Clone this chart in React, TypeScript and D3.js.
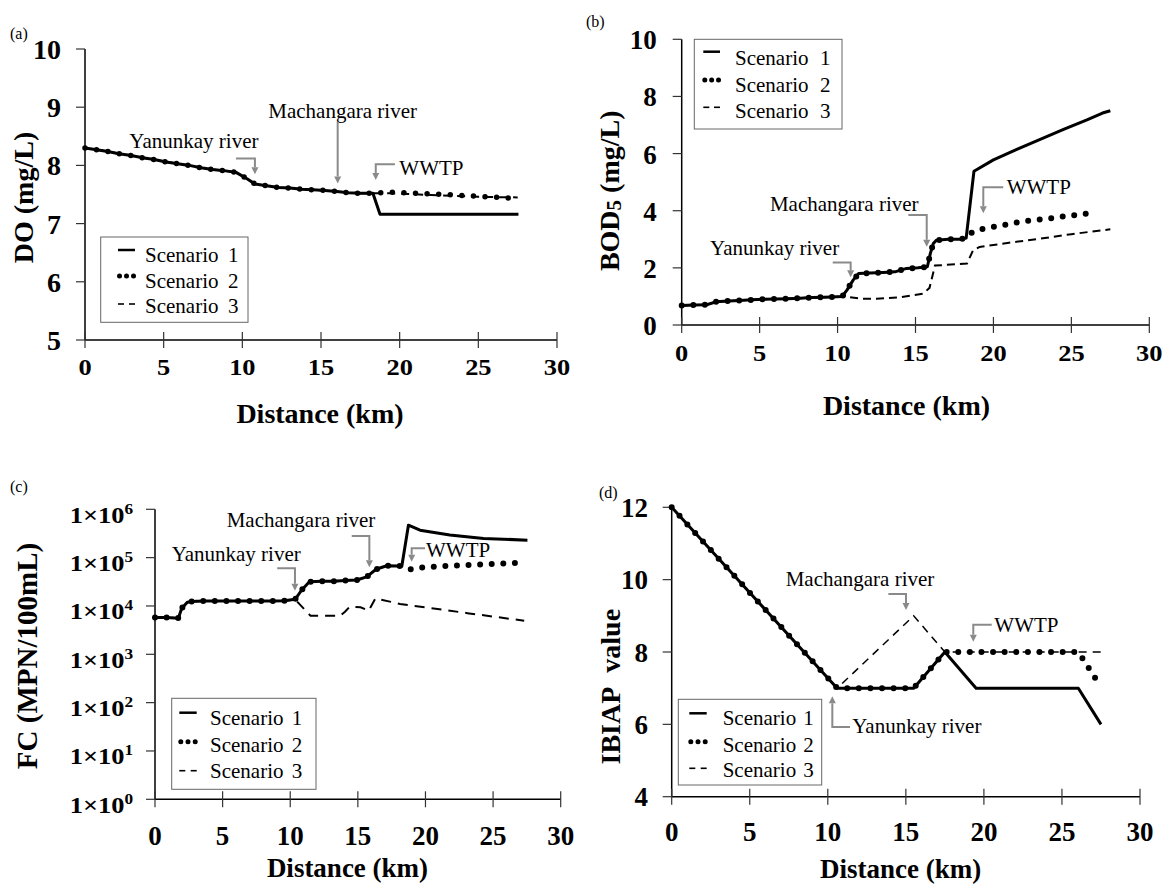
import React from "react";
import * as d3 from "d3";

type Pt = [number, number];

const FONT = "Liberation Serif, Times New Roman, serif";

// ---------------- shared ----------------
const distanceTicks = [0, 5, 10, 15, 20, 25, 30];
const scenarioNames = ["Scenario", "Scenario", "Scenario"];
const scenarioNumbers = ["1", "2", "3"];

// ---------------- (a) DO (mg/L) ----------------
const doTicks = [5, 6, 7, 8, 9, 10];
const doCommon: Pt[] = [
  [0, 8.3], [0.74, 8.27], [1.44, 8.24], [2.16, 8.2], [2.93, 8.17], [3.67, 8.13],
  [4.4, 8.1], [5.15, 8.06], [5.9, 8.03], [6.63, 8.0], [7.37, 7.96], [8.1, 7.93],
  [8.84, 7.91], [9.6, 7.88], [10.3, 7.77], [10.8, 7.68], [11.55, 7.65], [12.3, 7.62],
  [13.03, 7.61], [13.78, 7.59], [14.5, 7.58], [15.26, 7.57], [16.0, 7.55], [16.74, 7.53],
  [17.48, 7.52], [18.3, 7.52],
];
const doS1Tail: Pt[] = [[18.75, 7.16], [27.55, 7.16]];
const doS2Tail: Pt[] = [[19.5, 7.54], [22, 7.51], [25, 7.47], [27.5, 7.43]];
const doS3Tail: Pt[] = [[19.5, 7.52], [22, 7.49], [25, 7.46], [27.5, 7.45]];

// ---------------- (b) BOD5 (mg/L) ----------------
const bodTicks = [0, 2, 4, 6, 8, 10];
const bodCommon: Pt[] = [
  [0, 0.68], [0.75, 0.7], [1.6, 0.71], [2.2, 0.81], [2.99, 0.84], [3.74, 0.86],
  [4.49, 0.88], [5.24, 0.9], [6.05, 0.91], [6.8, 0.92], [7.59, 0.94], [8.34, 0.96],
  [9.13, 0.97], [9.94, 0.99], [10.3, 1.0],
];
const bodS12: Pt[] = [
  [10.6, 1.22], [11.0, 1.57], [11.35, 1.8], [12.08, 1.82], [12.93, 1.84], [13.68, 1.86],
  [14.43, 1.98], [15.17, 2.0], [15.76, 2.04], [15.95, 2.5], [16.14, 2.85], [16.35, 2.97],
  [17.1, 3.0], [17.85, 3.0], [18.25, 3.04],
];
const bodS1Tail: Pt[] = [
  [18.75, 5.38], [20, 5.78], [21.5, 6.15], [23, 6.5], [24.5, 6.85], [26, 7.18], [27, 7.42], [27.5, 7.5],
];
const bodS2Tail: Pt[] = [
  [18.5, 3.2], [19, 3.33], [19.7, 3.41], [20.5, 3.48], [21.2, 3.56], [21.9, 3.62],
  [22.7, 3.68], [23.5, 3.72], [24.2, 3.78], [25, 3.83], [25.7, 3.88], [26.6, 3.95],
];
const bodS3Tail: Pt[] = [
  [10.8, 0.97], [11.5, 0.92], [12.5, 0.92], [14, 0.97], [15.5, 1.1], [15.9, 1.3],
  [16.25, 2.08], [18.3, 2.15], [18.7, 2.62], [19.1, 2.73], [21, 2.88], [23, 3.02],
  [25, 3.18], [27.5, 3.35],
];

// ---------------- (c) FC (MPN/100mL) ----------------
const fcExponents = [0, 1, 2, 3, 4, 5, 6];
const fcCommon: Pt[] = [
  [0, 5800], [0.86, 5800], [1.73, 5600], [1.97, 8900], [2.39, 11900], [2.71, 12400],
  [3.57, 12700], [5.3, 12700], [7.03, 12700], [8.75, 12700], [9.57, 12800], [10.36, 13700],
];
const fcS12: Pt[] = [
  [10.85, 21400], [11.42, 31700], [12.33, 32500], [13.2, 32500], [14.05, 33500], [14.92, 34500],
  [15.65, 40000], [16.35, 57500], [17.14, 68000], [18.05, 67000], [18.25, 66000],
];
const fcS1Tail: Pt[] = [[18.74, 470000], [19.6, 370000], [21.8, 295000], [24.3, 250000], [27.54, 230000]];
const fcS2Tail: Pt[] = [[18.86, 57000], [19.65, 62000], [21, 66000], [23.1, 70000], [25, 74000], [27.3, 79000]];
const fcS3Tail: Pt[] = [
  [11.33, 7000], [11.5, 6300], [13.7, 6300], [14.05, 7600], [14.4, 9700], [15.2, 9400],
  [15.8, 8000], [16.3, 14400], [18.12, 11000], [20.6, 8900], [23.1, 7100], [27.3, 4950],
];

// ---------------- (d) IBIAP value ----------------
const ibTicks = [4, 6, 8, 10, 12];
const ibCommon: Pt[] = [[0, 12], [10.6, 7]];
const ibS12: Pt[] = [[15.5, 7], [17.5, 8]];
const ibS1Tail: Pt[] = [[19.5, 7], [26.05, 7], [27.5, 6]];
const ibS2Tail: Pt[] = [[26.05, 8], [27.4, 7.1]];
const ibS3Tail: Pt[] = [[15.5, 9], [17.5, 8], [27.5, 8]];

// ---------------- panel configuration ----------------
type Note = { text: string; at: Pt; path: Pt[] };
type Legend = {
  box: [number, number, number, number];
  sx: [number, number];
  sy: number[];
  tx: number;
  ty: number[];
  nx: number;
};
type PanelCfg = {
  tag: string;
  tagPos: Pt;
  xRange: [number, number];
  y: any;
  yTicks: number[];
  yLabel: (v: number) => React.ReactNode;
  yTickFont: number;
  yTickSx: number;
  yTickRight: number;
  yTickDy: number;
  xTickFont: number;
  xTickSx: number;
  xTickBase: number;
  xTitle: [number, number, number];
  yTitle: [number, number, number];
  yTitleContent: React.ReactNode;
  s1: Pt[];
  s2: Pt[];
  s3: Pt[];
  dash: string;
  dashW: number;
  dotW: number;
  legend: Legend;
  notes: Note[];
};

const panels: PanelCfg[] = [
  {
    tag: "(a)",
    tagPos: [10, 39],
    xRange: [85, 557],
    y: d3.scaleLinear().domain([5, 10]).range([340, 49]),
    yTicks: doTicks,
    yLabel: (v) => String(v),
    yTickFont: 28,
    yTickSx: 1,
    yTickRight: 61,
    yTickDy: 10,
    xTickFont: 24,
    xTickSx: 1.1,
    xTickBase: 375,
    xTitle: [320, 423, 28],
    yTitle: [33, 197.5, 28],
    yTitleContent: "DO (mg/L)",
    s1: doCommon.concat(doS1Tail),
    s2: doCommon.concat(doS2Tail),
    s3: doCommon.concat(doS3Tail),
    dash: "8 6",
    dashW: 2,
    dotW: 5.5,
    legend: { box: [100.7, 237, 147.3, 85.3], sx: [118, 135], sy: [250, 276, 304], tx: 145, ty: [261.7, 288.3, 313.3], nx: 228 },
    notes: [
      { text: "Yanunkay river", at: [2.82, 8.3], path: [[9.6, 8.12], [10.8, 8.12], [10.8, 7.85]] },
      { text: "Machangara river", at: [11.65, 8.81], path: [[16.06, 8.75], [16.06, 7.69]] },
      { text: "WWTP", at: [19.98, 7.84], path: [[19.7, 8.02], [18.48, 8.02], [18.48, 7.75]] },
    ],
  },
  {
    tag: "(b)",
    tagPos: [586, 27],
    xRange: [681.7, 1149.3],
    y: d3.scaleLinear().domain([0, 10]).range([325, 39.3]),
    yTicks: bodTicks,
    yLabel: (v) => String(v),
    yTickFont: 27,
    yTickSx: 1,
    yTickRight: 656.7,
    yTickDy: 10,
    xTickFont: 23,
    xTickSx: 1.15,
    xTickBase: 361,
    xTitle: [906.5, 415, 28],
    yTitle: [619, 190.8, 28],
    yTitleContent: (
      <>
        BOD<tspan fontSize={21} dy={2}>5</tspan>
        <tspan dy={-2}> (mg/L)</tspan>
      </>
    ),
    s1: bodCommon.concat(bodS12, bodS1Tail),
    s2: bodCommon.concat(bodS12, bodS2Tail),
    s3: bodCommon.concat(bodS3Tail),
    dash: "8 5",
    dashW: 2,
    dotW: 6,
    legend: { box: [694.3, 39.3, 147.7, 89.7], sx: [703.3, 720], sy: [51.7, 80, 107.3], tx: 735, ty: [65, 91.7, 118.3], nx: 820 },
    notes: [
      { text: "Yanunkay river", at: [1.82, 2.45], path: [[9.69, 2.19], [10.84, 2.19], [10.84, 1.67]] },
      { text: "Machangara river", at: [5.66, 4.0], path: [[14.54, 3.85], [15.72, 3.85], [15.72, 2.74]] },
      { text: "WWTP", at: [20.85, 4.57], path: [[20.63, 4.82], [19.35, 4.82], [19.35, 3.91]] },
    ],
  },
  {
    tag: "(c)",
    tagPos: [10, 492],
    xRange: [155, 560.7],
    y: d3.scaleLog().domain([1, 1e6]).range([799.3, 509.3]),
    yTicks: fcExponents.map((e) => Math.pow(10, e)),
    yLabel: (v) => (
      <>
        1×10<tspan fontSize={15} dy={-9}>{String(Math.round(Math.log10(v)))}</tspan>
      </>
    ),
    yTickFont: 23,
    yTickSx: 1.15,
    yTickRight: 133,
    yTickDy: 13.5,
    xTickFont: 27,
    xTickSx: 1,
    xTickBase: 845,
    xTitle: [347.5, 877, 27],
    yTitle: [37, 656, 29],
    yTitleContent: "FC (MPN/100mL)",
    s1: fcCommon.concat(fcS12, fcS1Tail),
    s2: fcCommon.concat(fcS12, fcS2Tail),
    s3: fcCommon.concat(fcS3Tail),
    dash: "10 7",
    dashW: 2,
    dotW: 6,
    legend: { box: [171.7, 698.3, 144.3, 91], sx: [179.3, 196.7], sy: [712.7, 741.7, 770.7], tx: 210, ty: [725, 751.7, 777.7], nx: 291.7 },
    notes: [
      { text: "Yanunkay river", at: [1.23, 85100], path: [[9.04, 60300], [10.35, 60300], [10.35, 20700]] },
      { text: "Machangara river", at: [5.3, 436500], path: [[14.55, 280500], [15.85, 280500], [15.85, 63100]] },
      { text: "WWTP", at: [20.04, 101600], path: [[19.97, 156000], [18.98, 156000], [18.98, 82400]] },
    ],
  },
  {
    tag: "(d)",
    tagPos: [599, 498],
    xRange: [671.7, 1140],
    y: d3.scaleLinear().domain([4, 12]).range([796.7, 507.3]),
    yTicks: ibTicks,
    yLabel: (v) => String(v),
    yTickFont: 27,
    yTickSx: 1,
    yTickRight: 648,
    yTickDy: 9.5,
    xTickFont: 27,
    xTickSx: 1,
    xTickBase: 840.7,
    xTitle: [900.7, 878.3, 27],
    yTitle: [619.6, 686.7, 28],
    yTitleContent: "IBIAP\u00a0 value",
    s1: ibCommon.concat(ibS12, ibS1Tail),
    s2: ibCommon.concat(ibS12, ibS2Tail),
    s3: ibCommon.concat(ibS3Tail),
    dash: "8 6",
    dashW: 1.5,
    dotW: 6,
    legend: { box: [678.3, 699.3, 143.4, 85.7], sx: [689.3, 706.7], sy: [713.3, 741.7, 768.3], tx: 722.7, ty: [725, 751.7, 776.7], nx: 803.3 },
    notes: [
      { text: "Machangara river", at: [7.3, 9.83], path: [[13.88, 9.6], [15.01, 9.6], [15.01, 9.16]] },
      { text: "WWTP", at: [20.67, 8.56], path: [[20.5, 8.75], [19.32, 8.75], [19.32, 8.28]] },
      { text: "Yanunkay river", at: [11.57, 5.75], path: [[11.42, 5.93], [10.29, 5.93], [10.29, 6.78]] },
    ],
  },
];

const ARROW = "#8a8a8a";

function Txt(props: any) {
  const { children, style, ...rest } = props;
  return (
    <text {...rest} fontFamily={FONT} style={{ fontFamily: FONT, ...(style || {}) }}>
      {children}
    </text>
  );
}

function Panel({ p }: { p: PanelCfg }) {
  const x = d3.scaleLinear().domain([0, 30]).range(p.xRange);
  const y = p.y;
  const [yb, yt] = y.range() as [number, number];
  const [x0, x1] = p.xRange;
  const line = d3.line<Pt>().x((d) => x(d[0])).y((d) => y(d[1]));

  const arrow = (pts: Pt[], key: number) => {
    const px = pts.map((d) => [x(d[0]), y(d[1])]);
    const n = px.length;
    const tip = px[n - 1];
    const prev = px[n - 2];
    const dx = tip[0] - prev[0];
    const dy = tip[1] - prev[1];
    const L = Math.hypot(dx, dy);
    const ux = dx / L;
    const uy = dy / L;
    const hl = 7;
    const hw = 3.5;
    const bx = tip[0] - ux * hl;
    const by = tip[1] - uy * hl;
    const linePts = [...px.slice(0, n - 1), [bx, by]];
    return (
      <g key={key}>
        <polyline points={linePts.map((q) => q.join(",")).join(" ")} fill="none" stroke={ARROW} strokeWidth={2} />
        <polygon points={`${tip[0]},${tip[1]} ${bx - uy * hw},${by + ux * hw} ${bx + uy * hw},${by - ux * hw}`} fill={ARROW} />
      </g>
    );
  };

  const lg = p.legend;
  return (
    <g>
      {/* panel tag */}
      <Txt x={p.tagPos[0]} y={p.tagPos[1]} fontSize={16}>{p.tag}</Txt>

      {/* axes */}
      <line x1={x0} x2={x1} y1={yb} y2={yb} stroke="#000" strokeWidth={1.5} />
      <line x1={x0} x2={x0} y1={yb} y2={yt} stroke="#000" strokeWidth={1.5} />
      {distanceTicks.map((t) => (
        <g key={"xt" + t}>
          <line x1={x(t)} x2={x(t)} y1={yb - 8} y2={yb + 8} stroke="#333" strokeWidth={1.2} />
          <Txt
            transform={`translate(${x(t)},${p.xTickBase}) scale(${p.xTickSx},1)`}
            textAnchor="middle"
            fontSize={p.xTickFont}
            fontWeight="bold"
          >
            {t}
          </Txt>
        </g>
      ))}
      {p.yTicks.map((t) => (
        <g key={"yt" + t}>
          <line x1={x0 - 9} x2={x0} y1={y(t)} y2={y(t)} stroke="#333" strokeWidth={1.2} />
          <Txt
            transform={`translate(${p.yTickRight},${y(t) + p.yTickDy}) scale(${p.yTickSx},1)`}
            textAnchor="end"
            fontSize={p.yTickFont}
            fontWeight="bold"
          >
            {p.yLabel(t)}
          </Txt>
        </g>
      ))}
      <Txt x={p.xTitle[0]} y={p.xTitle[1]} fontSize={p.xTitle[2]} fontWeight="bold" textAnchor="middle">
        Distance (km)
      </Txt>
      <Txt
        transform={`translate(${p.yTitle[0]},${p.yTitle[1]}) rotate(-90)`}
        fontSize={p.yTitle[2]}
        fontWeight="bold"
        textAnchor="middle"
      >
        {p.yTitleContent}
      </Txt>

      {/* series */}
      <path d={line(p.s3) || ""} fill="none" stroke="#000" strokeWidth={p.dashW} strokeDasharray={p.dash} />
      <path
        d={line(p.s2) || ""}
        fill="none"
        stroke="#000"
        strokeWidth={p.dotW}
        strokeDasharray="0 11.6"
        strokeLinecap="round"
        strokeLinejoin="round"
      />
      <path d={line(p.s1) || ""} fill="none" stroke="#000" strokeWidth={3} strokeLinejoin="round" />

      {/* annotations */}
      {p.notes.map((n, i) => (
        <g key={"n" + i}>
          <Txt x={x(n.at[0])} y={y(n.at[1])} fontSize={21}>{n.text}</Txt>
          {arrow(n.path, i)}
        </g>
      ))}

      {/* legend */}
      <rect x={lg.box[0]} y={lg.box[1]} width={lg.box[2]} height={lg.box[3]} fill="#fff" stroke="#666" strokeWidth={1} />
      <line x1={lg.sx[0]} x2={lg.sx[1]} y1={lg.sy[0]} y2={lg.sy[0]} stroke="#000" strokeWidth={2.5} />
      {[0, 1, 2].map((k) => (
        <circle key={"ld" + k} cx={lg.sx[0] + 1.5 + k * ((lg.sx[1] - lg.sx[0] - 3) / 2)} cy={lg.sy[1]} r={2.5} fill="#000" />
      ))}
      <line x1={lg.sx[0]} x2={lg.sx[0] + 6} y1={lg.sy[2]} y2={lg.sy[2]} stroke="#000" strokeWidth={1.6} />
      <line x1={lg.sx[1] - 6} x2={lg.sx[1]} y1={lg.sy[2]} y2={lg.sy[2]} stroke="#000" strokeWidth={1.6} />
      {scenarioNames.map((s, k) => (
        <g key={"lt" + k}>
          <Txt x={lg.tx} y={lg.ty[k]} fontSize={21}>{s}</Txt>
          <Txt x={lg.nx} y={lg.ty[k]} fontSize={21}>{scenarioNumbers[k]}</Txt>
        </g>
      ))}
    </g>
  );
}

export default function App() {
  return (
    <svg
      width={1171}
      height={885}
      viewBox="0 0 1171 885"
      fontFamily={FONT}
      style={{ position: "absolute", left: 0, top: 0, background: "#fff", fontFamily: FONT }}
    >
      <rect x={0} y={0} width={1171} height={885} fill="#fff" />
      {panels.map((p, i) => (
        <Panel key={i} p={p} />
      ))}
    </svg>
  );
}
